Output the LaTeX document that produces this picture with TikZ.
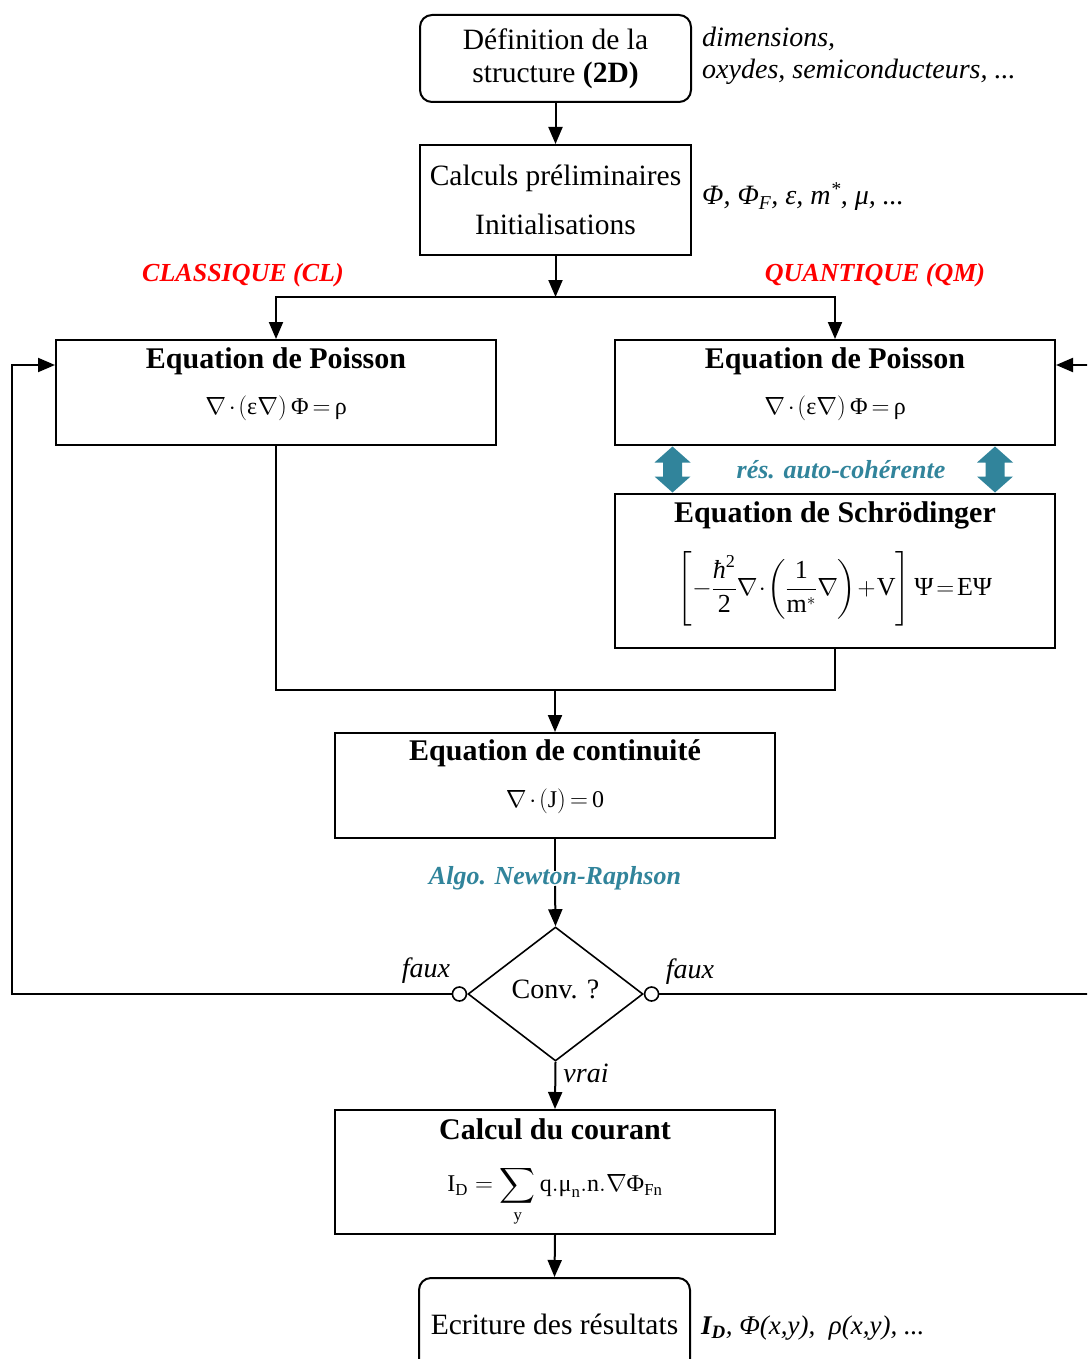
\documentclass[tikz,border=0pt]{standalone}
\usepackage{amsmath}
\usepackage{fontspec}
\setmainfont{Liberation Serif}
\usetikzlibrary{arrows.meta,shapes.geometric}
\definecolor{tealc}{HTML}{31849B}
\definecolor{redc}{HTML}{FF0000}
\newcommand{\tx}[1]{\text{#1}}
\newcommand{\tightmu}{\medmuskip=2mu\relax\thickmuskip=3mu\relax}
\newcommand{\tightermu}{\medmuskip=1mu\relax\thickmuskip=2mu\relax}
\begin{document}
\begin{tikzpicture}[x=1pt,y=-1pt,
  box/.style={draw,line width=2pt,inner sep=0pt},
  rbox/.style={box,rounded corners=12pt},
  ln/.style={line width=2pt},
  arr/.style={line width=2pt,-{Triangle[length=17pt,width=14pt]}},
  txt/.style={font=\fontsize{29.5}{33}\selectfont,inner sep=0pt,align=center},
  ttl/.style={font=\fontsize{30}{34}\selectfont\bfseries,inner sep=0pt},
  eqn/.style={font=\fontsize{24}{28}\selectfont,inner sep=0pt},
  side/.style={font=\fontsize{28}{33}\selectfont\itshape,inner sep=0pt,anchor=west},
  lab/.style={font=\fontsize{26}{30}\selectfont\bfseries\itshape,inner sep=0pt},
  dbl/.pic={\fill[tealc] (0,-23) -- (18,-7) -- (9.5,-7) -- (9.5,7) -- (18,7) -- (0,23) -- (-18,7) -- (-9.5,7) -- (-9.5,-7) -- (-18,-7) -- cycle;}
]
\useasboundingbox (0,0) rectangle (1087,1359);
\clip (0,0) rectangle (1087,1359);

% boxes
\node[rbox,minimum width=271pt,minimum height=87pt,txt] (def) at (555.5,58.5) {D\'efinition de la\\structure \textbf{(2D)}};
\node[box,minimum width=271pt,minimum height=110pt,txt,font=\fontsize{29.5}{49}\selectfont] (pre) at (555.5,200) {Calculs pr\'eliminaires\\Initialisations};

\node[side] (s1) at (702,39) {dimensions,};
\node[side] (s2) at (702,72) {oxydes, semiconducteurs, ...};
\node[side] (s3) at (702,197) {Φ, Φ\textsubscript{F}, ε, m\textsuperscript{*}, μ, ...};

\node[lab,text=redc] (cl) at (243,275) {CLASSIQUE (CL)};
\node[lab,text=redc] (qm) at (875,275) {QUANTIQUE (QM)};

\node[box,minimum width=440pt,minimum height=105pt] (pL) at (276,392.5) {};
\node[ttl] (pLt) at (276,361) {Equation de Poisson};
\node[eqn] (pLe) at (276,408) {$\tightmu\nabla\cdot\left(\tx{ε}\nabla\right)\tx{Φ}=\tx{ρ}$};

\node[box,minimum width=440pt,minimum height=105pt] (pR) at (835,392.5) {};
\node[ttl] (pRt) at (835,361) {Equation de Poisson};
\node[eqn] (pRe) at (835,408) {$\tightmu\nabla\cdot\left(\tx{ε}\nabla\right)\tx{Φ}=\tx{ρ}$};

\pic at (672.5,469.5) {dbl};
\pic at (995,469.5) {dbl};
\node[lab,text=tealc] (auto) at (841,470) {r\'es. auto-coh\'erente};

\node[box,minimum width=440pt,minimum height=154pt] (sch) at (835,571) {};
\node[ttl] (scht) at (835,515) {Equation de Schr\"odinger};
\node[eqn,font=\fontsize{26}{30}\selectfont] (sche) at (835,589) {$\tightermu\left[-\dfrac{\tx{\itshape ħ}^{\tx{2}}}{\tx{2}}\nabla\cdot\left(\dfrac{\tx{1}}{\mathrm{m}^{*}}\nabla\right)+\mathrm{V}\right]\tx{Ψ}=\mathrm{E}\tx{Ψ}$};

\node[box,minimum width=440pt,minimum height=105pt] (cont) at (555,785.5) {};
\node[ttl] (contt) at (555,753) {Equation de continuit\'e};
\node[eqn] (conte) at (555,801) {$\tightmu\nabla\cdot\left(\mathrm{J}\right)=\tx{0}$};

\node[lab,text=tealc] (algo) at (555,878) {Algo. Newton-Raphson};

\node[draw,diamond,line width=1.6pt,minimum width=175pt,minimum height=134pt,inner sep=0pt] (conv) at (555.5,994) {};
\node[font=\fontsize{28}{33}\selectfont,inner sep=0pt] (convt) at (555.5,989) {Conv. ?};
\node[draw,circle,line width=1.6pt,fill=white,minimum size=14pt,inner sep=0pt,anchor=east] (fL) at (conv.west) {};
\node[draw,circle,line width=1.6pt,fill=white,minimum size=14pt,inner sep=0pt,anchor=west] (fR) at (conv.east) {};
\node[font=\fontsize{28}{33}\selectfont\itshape,inner sep=0pt] (faL) at (426,971) {faux};
\node[font=\fontsize{28}{33}\selectfont\itshape,inner sep=0pt] (faR) at (690,972) {faux};
\node[font=\fontsize{28}{33}\selectfont\itshape,inner sep=0pt] (vr) at (586,1073) {vrai};

\node[box,minimum width=440pt,minimum height=124pt] (calc) at (555,1172) {};
\node[ttl] (calct) at (555,1129) {Calcul du courant};
\node[eqn] (calce) at (555,1196) {$\mathrm{I_{D}}=\displaystyle\sum_{\mathrm{y}}\mathrm{q.}\tx{μ}_{\mathrm{n}}\mathrm{.n.}\nabla\tx{Φ}_{\mathrm{Fn}}$};

\node[rbox,minimum width=271pt,minimum height=112pt] (ecr) at (554.5,1334) {};
\node[txt] (ecrt) at (554.5,1324) {Ecriture des r\'esultats};
\node[side,font=\fontsize{27}{33}\selectfont\itshape] (s4) at (701,1328) {\textbf{I\textsubscript{D}}, Φ(x,y), \ ρ(x,y), ...};

% coordinates
\coordinate (split) at (555.5,297);
\coordinate (join) at (555,690);
\coordinate (lb) at (12,994);
\coordinate (lt) at (12,365);
\coordinate (rb) at (1100,994);
\coordinate (rt) at (1100,365);

% connectors
\draw[arr] (def) -- (pre);
\draw[arr] (pre) -- (split);
\draw[arr] (split) -| (pL.north);
\draw[arr] (split) -| (pR.north);
\draw[ln] (pL.south) |- (join);
\draw[ln] (sch.south) |- (join);
\draw[arr] (join) -- (cont.north);
\draw[ln] (cont.south) -- ([yshift=-5pt]algo.north);
\draw[arr] ([yshift=4pt]algo.south) -- (conv.north);
\draw[arr] (fL.west) -- (lb) -- (lt) -- (lt -| pL.west);
\draw[arr] (fR.east) -- (rb) -- (rt) -- (rt -| pR.east);
\draw[arr] (conv.south) -- (calc.north);
\draw[arr] (calc.south) -- (ecr.north);
\end{tikzpicture}
\end{document}
